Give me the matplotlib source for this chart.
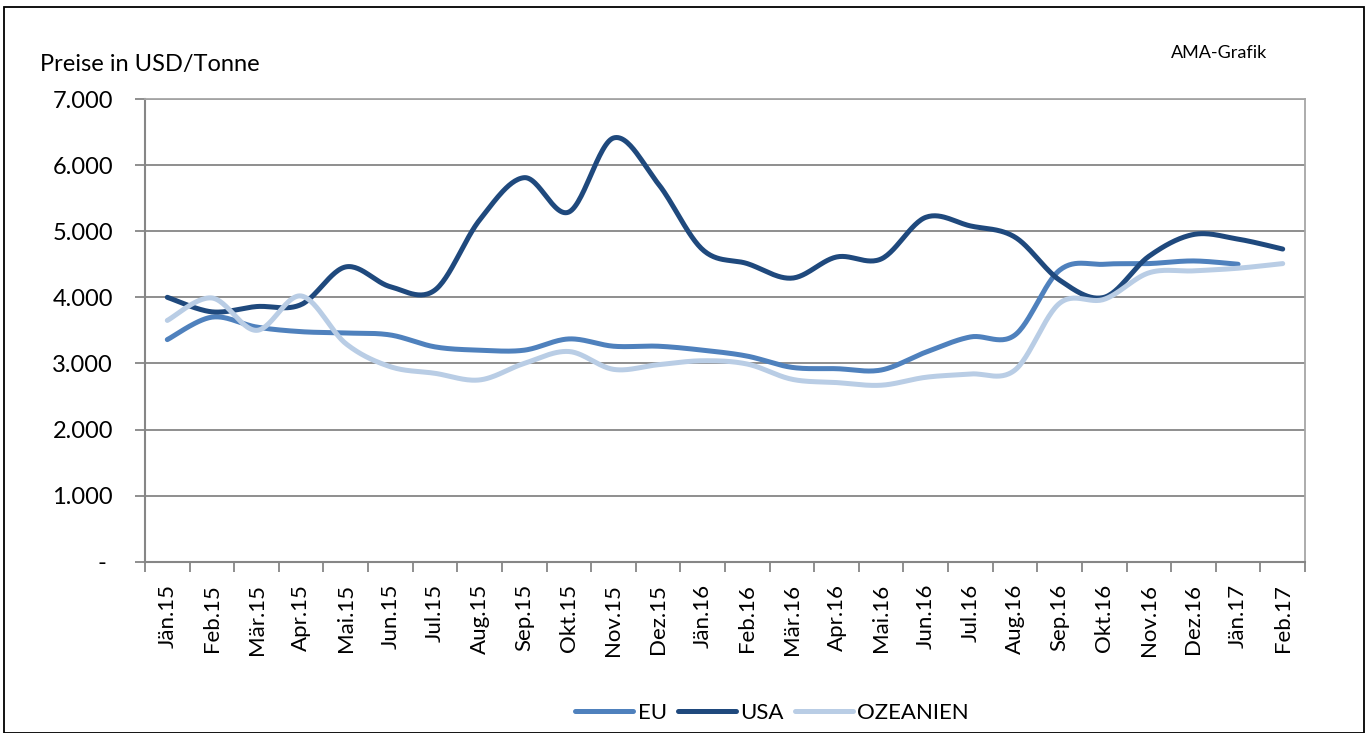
import matplotlib

matplotlib.use("Agg")
import matplotlib.pyplot as plt  # noqa: E402
import numpy as np
from matplotlib.patches import Rectangle
from matplotlib.lines import Line2D

plt.rcParams["font.family"] = ["Lato", "DejaVu Sans"]

months = [
    "Jän.15", "Feb.15", "Mär.15", "Apr.15", "Mai.15", "Jun.15", "Jul.15",
    "Aug.15", "Sep.15", "Okt.15", "Nov.15", "Dez.15", "Jän.16", "Feb.16",
    "Mär.16", "Apr.16", "Mai.16", "Jun.16", "Jul.16", "Aug.16", "Sep.16",
    "Okt.16", "Nov.16", "Dez.16", "Jän.17", "Feb.17",
]
eu = [3360, 3700, 3550, 3480, 3460, 3430, 3250, 3200, 3200, 3370, 3260,
      3260, 3200, 3110, 2940, 2920, 2900, 3170, 3400, 3430, 4410, 4500,
      4510, 4550, 4500]
usa = [4000, 3780, 3860, 3890, 4460, 4160, 4110, 5170, 5810, 5290, 6410,
       5720, 4720, 4510, 4290, 4610, 4580, 5210, 5080, 4910, 4260, 4000,
       4620, 4950, 4880, 4730]
ozeanien = [3650, 3990, 3500, 4020, 3300, 2950, 2850, 2750, 3000, 3180,
            2910, 2980, 3040, 2990, 2760, 2710, 2670, 2790, 2840, 2900,
            3910, 3970, 4370, 4400, 4440, 4510]
yticks = [0, 1000, 2000, 3000, 4000, 5000, 6000, 7000]
ytick_labels = ["- ", "1.000", "2.000", "3.000", "4.000", "5.000", "6.000", "7.000"]

COLORS = {"EU": "#4f81bd", "USA": "#1f497d", "OZEANIEN": "#b9cde5"}
GRID = "#868686"


def smooth(values, steps=30):
    # Excel-like smoothed line: Catmull-Rom as cubic Bezier segments
    y = np.asarray(values, dtype=float)
    x = np.arange(len(y), dtype=float)
    pts = np.column_stack([x, y])
    out = [pts[0]]
    n = len(pts)
    t = np.linspace(0, 1, steps)[1:, None]
    for i in range(n - 1):
        p0 = pts[max(i - 1, 0)]
        p1 = pts[i]
        p2 = pts[i + 1]
        p3 = pts[min(i + 2, n - 1)]
        c1 = p1 + (p2 - p0) / 6.0
        c2 = p2 - (p3 - p1) / 6.0
        seg = ((1 - t) ** 3) * p1 + 3 * ((1 - t) ** 2) * t * c1 + 3 * (1 - t) * t ** 2 * c2 + t ** 3 * p2
        out.extend(seg)
    out = np.array(out)
    return out[:, 0], out[:, 1]


fig = plt.figure(figsize=(13.72, 7.33), dpi=100, facecolor="white")
fig.patches.append(Rectangle((4 / 1372, 0), 1360 / 1372, 726 / 733, transform=fig.transFigure,
                             fill=False, edgecolor="black", linewidth=1.3))

ax = fig.add_axes([145 / 1372, 1 - 561.7 / 733, 1160 / 1372, 462.7 / 733])
for name, vals in (("EU", eu), ("USA", usa), ("OZEANIEN", ozeanien)):
    sx, sy = smooth(vals)
    ax.plot(sx, sy, color=COLORS[name], lw=3.6, solid_capstyle="round", label=name, zorder=3)

ax.set_xlim(-0.5, len(months) - 0.5)
ax.set_ylim(0, 7000)
ax.set_yticks(yticks)
ax.set_yticklabels(ytick_labels, fontsize=17)
ax.set_xticks(np.arange(len(months) + 1) - 0.5)
ax.set_xticklabels([])
ax.set_xticks(np.arange(len(months)), minor=True)
ax.set_xticklabels(months, minor=True, rotation=90, fontsize=16)
ax.tick_params(axis="x", which="major", length=7, width=1.3, color=GRID)
ax.tick_params(axis="x", which="minor", length=0, pad=16)
ax.tick_params(axis="y", length=7, width=1.3, color=GRID, pad=16)
ax.grid(axis="y", color=GRID, lw=1.3, zorder=1)
ax.set_axisbelow(True)
for side in ("left", "bottom"):
    ax.spines[side].set_color(GRID)
    ax.spines[side].set_linewidth(1.5)
for side in ("top", "right"):
    ax.spines[side].set_color("#a6a6a6")
    ax.spines[side].set_linewidth(1.3)

fig.text(40 / 1372, 1 - 64 / 733, "Preise in USD/Tonne", fontsize=17, va="center", ha="left")
fig.text(1219 / 1372, 1 - 53 / 733, "AMA-Grafik", fontsize=13, va="center", ha="center")

handles = [Line2D([], [], color=COLORS[k], lw=3.6, solid_capstyle="round") for k in COLORS]
fig.legend(handles, list(COLORS), loc="center", bbox_to_anchor=(772 / 1372, 1 - 713 / 733),
           ncol=3, frameon=False, fontsize=16, handlelength=2.6, handletextpad=0.2,
           columnspacing=0.5)

fig.savefig("out.png", dpi=100, facecolor="white")
